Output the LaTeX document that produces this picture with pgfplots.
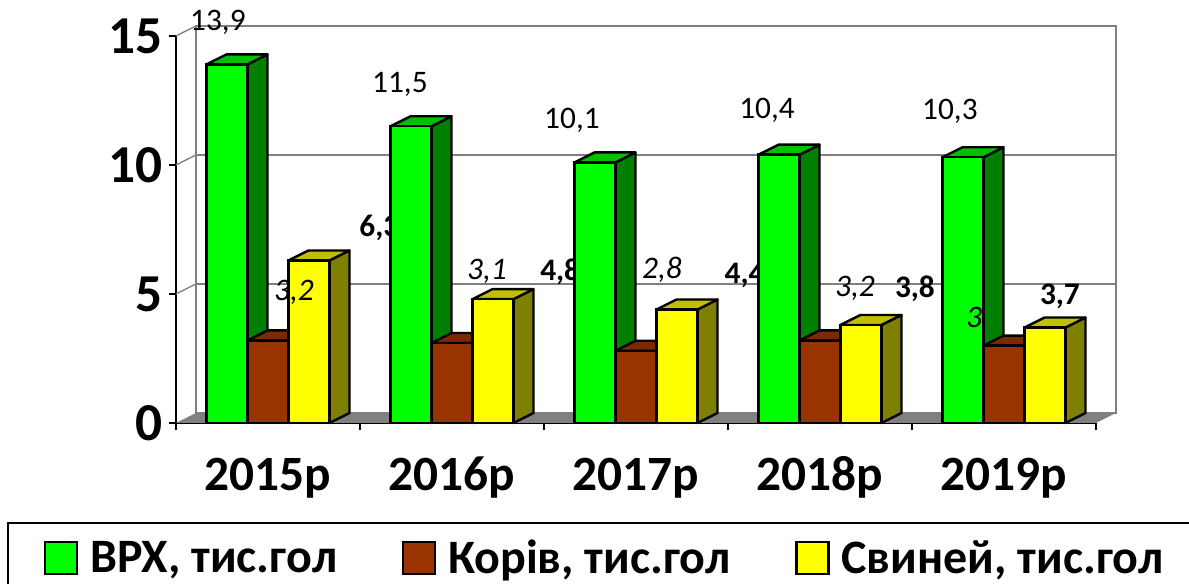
\documentclass[border=0pt]{standalone}
\usepackage{pgfplots}
\usepackage{pgfplotstable}
\usepackage{fontspec}
\setmainfont{Carlito}
\pgfplotsset{compat=1.18}
\definecolor{wall}{RGB}{128,128,128}
\definecolor{gfront}{RGB}{0,255,0}\definecolor{gside}{RGB}{0,128,0}\definecolor{gtop}{RGB}{0,192,0}
\definecolor{bfront}{RGB}{153,51,0}\definecolor{bside}{RGB}{122,41,0}\definecolor{btop}{RGB}{122,41,0}
\definecolor{yfront}{RGB}{255,255,0}\definecolor{yside}{RGB}{128,128,0}\definecolor{ytop}{RGB}{192,192,0}
\pgfplotstableread{
x v k s
0.5 13.9 3.2 6.3
1.5 11.5 3.1 4.8
2.5 10.1 2.8 4.4
3.5 10.4 3.2 3.8
4.5 10.3 3.0 3.7
}\datatable
\def\dx{0.1087}\def\dy{0.3876}\def\bw{0.2228}
\newcommand\faces[3]{% column, series index, colour stem
 \pgfplotsinvokeforeach{0,1,2,3,4}{%
  \pgfplotstablegetelem{##1}{#1}\of\datatable
  \let\val\pgfplotsretval
  \pgfmathsetmacro\xa{##1+0.1658+#2*\bw}%
  \pgfmathsetmacro\xb{\xa+\bw}%
  \pgfmathsetmacro\xc{\xb+\dx}%
  \pgfmathsetmacro\xd{\xa+\dx}%
  \pgfmathsetmacro\vt{\val+\dy}%
  \edef\temp{\noexpand\addplot[forget plot,fill=#3side,draw=black,line width=1.8pt,line join=round] coordinates {(\xb,0) (\xc,\dy) (\xc,\vt) (\xb,\val)} -- cycle;
   \noexpand\addplot[forget plot,fill=#3top,draw=black,line width=1.8pt,line join=round] coordinates {(\xa,\val) (\xd,\vt) (\xc,\vt) (\xb,\val)} -- cycle;}%
  \temp
 }%
}
\begin{document}
\begin{tikzpicture}
\useasboundingbox (-132pt,-120.75pt) rectangle (759.75pt,317.25pt);
\clip (-132pt,-120.75pt) rectangle (759.75pt,317.25pt);
\draw[black,line width=1.6pt] (-126pt,-75pt) rectangle (780pt,-140pt);
\begin{axis}[
 at={(0pt,0pt)},anchor=origin,
 scale only axis,width=690pt,height=290.25pt,
 xmin=0,xmax=5,ymin=0,ymax=15,clip=false,
 axis x line*=bottom,axis y line*=left,axis line style={-,black,line width=1.8pt},
 xtick={0,1,2,3,4,5},xticklabels={},
 extra x ticks={0.5,1.5,2.5,3.5,4.5},
 extra x tick labels={2015р,2016р,2017р,2018р,2019р},
 extra x tick style={major tick length=0pt,tick label style={yshift=-21pt,text height=26pt,text depth=8pt,font=\fontsize{37}{40}\selectfont\bfseries}},
 ytick={0,5,10,15},
 tick style={black,line width=1.8pt},major tick length=5.5pt,tick align=outside,
 /pgf/number format/assume math mode=true,
 tick label style={font=\fontsize{40}{44}\selectfont\bfseries},
 yticklabel style={xshift=-1pt},
 legend style={at={(-0.148,-0.349)},anchor=west,draw=none,fill=none,
  font=\fontsize{36}{40}\selectfont\bfseries,legend columns=3,
  /tikz/every even column/.style={column sep=46.5pt},
  /tikz/every odd column/.style={column sep=7pt}},
 legend cell align=left,
]
% walls
\draw[wall,line width=1.6pt,fill=white] (axis cs:\dx,\dy) rectangle (axis cs:5+\dx,15+\dy);
\fill[wall] (axis cs:0,0) -- (axis cs:\dx,\dy) -- (axis cs:5+\dx,\dy) -- (axis cs:5,0) -- cycle;
\draw[wall,line width=1pt] (axis cs:\dx,5+\dy) -- (axis cs:5+\dx,5+\dy);
\draw[wall,line width=1pt] (axis cs:\dx,10+\dy) -- (axis cs:5+\dx,10+\dy);
\draw[wall,line width=1pt] (axis cs:0,15) -- (axis cs:\dx,15+\dy);
\draw[wall,line width=1pt] (axis cs:0,10) -- (axis cs:\dx,10+\dy);
\draw[wall,line width=1pt] (axis cs:0,5) -- (axis cs:\dx,5+\dy);
% labels that lie behind the bars
\node[font=\fontsize{23.5}{26}\selectfont\bfseries,inner sep=0pt] at (axis cs:1.105,7.56) {6,3};
\node[font=\fontsize{23.5}{26}\selectfont\bfseries,inner sep=0pt] at (axis cs:2.088,5.87) {4,8};
\node[font=\fontsize{23.5}{26}\selectfont\bfseries,inner sep=0pt] at (axis cs:3.09,5.71) {4,4};
\node[font=\fontsize{23.5}{26}\selectfont\bfseries,inner sep=0pt] at (axis cs:4.016,5.2) {3,8};
\node[font=\fontsize{23.5}{26}\selectfont\bfseries,inner sep=0pt] at (axis cs:4.804,4.9) {3,7};
% bars
\faces{v}{0}{g}
\addplot[ybar,bar width=30.75pt,bar shift=-30.75pt,fill=gfront,draw=black,line width=1.8pt,
 legend image code/.code={\draw[fill=gfront,draw=black,line width=1.6pt] (0pt,-12pt) rectangle (24pt,12pt);}]
 table[x=x,y=v]{\datatable};
\addlegendentry{ВРХ, тис.гол}
\faces{k}{1}{b}
\addplot[ybar,bar width=30.75pt,bar shift=0pt,fill=bfront,draw=black,line width=1.8pt,
 legend image code/.code={\draw[fill=bfront,draw=black,line width=1.6pt] (0pt,-12pt) rectangle (24pt,12pt);}]
 table[x=x,y=k]{\datatable};
\addlegendentry{Корів, тис.гол}
\faces{s}{2}{y}
\addplot[ybar,bar width=30.75pt,bar shift=30.75pt,fill=yfront,draw=black,line width=1.8pt,
 legend image code/.code={\draw[fill=yfront,draw=black,line width=1.6pt] (0pt,-12pt) rectangle (24pt,12pt);}]
 table[x=x,y=s]{\datatable};
\addlegendentry{Свиней, тис.гол}
% labels in front
\node[font=\fontsize{23.5}{26}\selectfont,inner sep=0pt] at (axis cs:0.228,15.52) {13,9};
\node[font=\fontsize{23.5}{26}\selectfont,inner sep=0pt] at (axis cs:1.217,13.12) {11,5};
\node[font=\fontsize{23.5}{26}\selectfont,inner sep=0pt] at (axis cs:2.152,11.72) {10,1};
\node[font=\fontsize{23.5}{26}\selectfont,inner sep=0pt] at (axis cs:3.212,12.12) {10,4};
\node[font=\fontsize{23.5}{26}\selectfont,inner sep=0pt] at (axis cs:4.206,12.07) {10,3};
\node[font=\fontsize{23.5}{26}\selectfont\itshape,inner sep=0pt] at (axis cs:0.641,5.05) {3,2};
\node[font=\fontsize{23.5}{26}\selectfont\itshape,inner sep=0pt] at (axis cs:1.690,5.88) {3,1};
\node[font=\fontsize{23.5}{26}\selectfont\itshape,inner sep=0pt] at (axis cs:2.641,5.95) {2,8};
\node[font=\fontsize{23.5}{26}\selectfont\itshape,inner sep=0pt] at (axis cs:3.690,5.22) {3,2};
\node[font=\fontsize{23.5}{26}\selectfont\itshape,inner sep=0pt] at (axis cs:4.337,4.1) {3};
\end{axis}
\end{tikzpicture}
\end{document}
